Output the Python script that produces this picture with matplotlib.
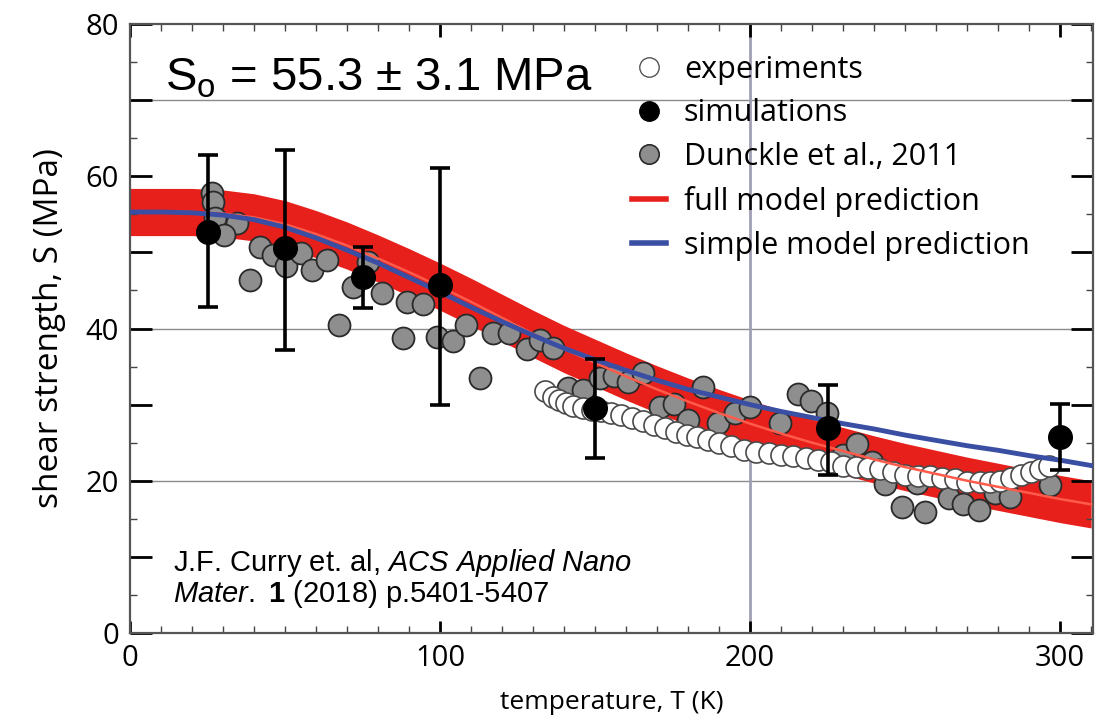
import numpy as np
import matplotlib
matplotlib.use("Agg")
import matplotlib.pyplot as plt
from matplotlib.ticker import MultipleLocator
from matplotlib.lines import Line2D

plt.rcParams['font.family'] = ['Open Sans', 'DejaVu Sans']
plt.rcParams['mathtext.fontset'] = 'custom'
plt.rcParams['mathtext.rm'] = 'Liberation Sans'
plt.rcParams['mathtext.it'] = 'Liberation Sans:italic'
plt.rcParams['mathtext.bf'] = 'Liberation Sans:bold'

# --- data -----------------------------------------------------------------
# Dunckle et al., 2011 (grey circles)
dunckle_T = [26.5, 26.8, 27.5, 34.5, 30.3, 38.7, 41.9, 46.1, 50.3, 55.2,
             58.7, 63.5, 67.4, 71.9, 76.8, 81.3, 88.1, 89.4, 94.5, 99.0,
             104.2, 108.4, 112.9, 117.1, 122.3, 128.0, 132.3, 136.5, 141.3, 146.1,
             151.6, 156.1, 160.6, 165.5, 171.0, 175.5, 180.0, 184.8, 189.7, 195.2,
             200.0, 209.7, 215.6, 219.6, 224.8, 230.0, 234.5, 239.4, 243.5, 249.0,
             253.9, 256.5, 264.0, 268.7, 273.9, 279.0, 283.9, 296.8]
dunckle_S = [57.8, 56.6, 54.5, 53.9, 52.3, 46.4, 50.7, 49.7, 48.2, 49.9,
             47.7, 49.0, 40.5, 45.5, 48.8, 44.7, 38.8, 43.5, 43.2, 38.9,
             38.4, 40.5, 33.5, 39.4, 39.4, 37.3, 38.5, 37.4, 32.2, 31.9,
             33.5, 33.8, 33.0, 34.2, 29.7, 30.1, 28.0, 32.3, 27.6, 28.9,
             29.7, 27.6, 31.4, 30.5, 28.9, 23.4, 24.8, 22.5, 19.6, 16.6,
             19.7, 15.9, 17.7, 17.0, 16.2, 18.4, 17.9, 19.4]

# experiments (open circles)
exp_T = [133.9, 136.5, 138.5, 140.5, 143.0, 146.0, 149.0, 152.0, 155.0, 158.5,
         162.0, 165.5, 169.0, 172.5, 176.0, 179.5, 183.0, 186.5, 190.0, 194.0,
         198.0, 202.0, 206.0, 210.0, 214.0, 218.0, 222.0, 226.0, 230.0, 234.0,
         238.0, 242.0, 246.0, 250.0, 254.0, 258.0, 262.0, 266.0, 270.0, 274.0,
         277.5, 280.5, 284.0, 287.5, 290.5, 293.5, 296.5]
exp_S = [31.8, 31.0, 30.6, 30.2, 29.8, 29.5, 29.3, 29.1, 28.9, 28.6,
         28.3, 27.8, 27.3, 26.9, 26.4, 26.0, 25.7, 25.4, 25.0, 24.5,
         24.1, 23.8, 23.6, 23.4, 23.2, 23.0, 22.7, 22.4, 22.0, 21.8,
         21.7, 21.5, 21.2, 20.8, 20.6, 20.6, 20.4, 20.2, 19.9, 19.8,
         19.8, 20.0, 20.3, 20.7, 21.1, 21.5, 22.0]

# simulations (filled black circles with error bars)
sim_T = [25, 50, 75, 100, 150, 225, 300]
sim_S = [52.7, 50.6, 46.8, 45.7, 29.6, 26.9, 25.8]
sim_hi = [62.8, 63.5, 50.7, 61.1, 36.0, 32.6, 30.1]
sim_lo = [42.8, 37.2, 42.7, 30.0, 23.0, 20.8, 21.4]

# model curves
model_T = [0, 10, 20, 30, 40, 50, 60, 70, 80, 90, 100, 110, 120, 130, 140, 150,
           160, 170, 180, 190, 200, 210, 220, 230, 240, 250, 260, 270, 280, 290,
           300, 310]
full_S = [55.3, 55.3, 55.3, 55.1, 54.6, 53.7, 52.4, 50.9, 49.2, 47.4, 45.5,
          43.5, 41.4, 39.3, 37.3, 35.5, 33.7, 32.0, 30.4, 28.9, 27.5, 26.2,
          25.0, 23.9, 22.8, 21.8, 20.9, 20.0, 19.2, 18.4, 17.6, 16.9]
simple_S = [55.3, 55.3, 55.2, 54.9, 54.3, 53.3, 51.9, 50.3, 48.6, 46.7, 44.8,
            42.8, 40.9, 39.1, 37.4, 35.9, 34.5, 33.2, 32.0, 31.0, 30.0, 29.1,
            28.3, 27.5, 26.8, 26.0, 25.3, 24.6, 24.0, 23.3, 22.7, 22.0]
S0 = 55.3
S0_err = 3.1

x_ticks = [0, 100, 200, 300]
y_ticks = [0, 10, 20, 30, 40, 50, 60, 70, 80]
y_ticklabels = ['0', '', '20', '', '40', '', '60', '', '80']

# --- figure ---------------------------------------------------------------
fig = plt.figure(figsize=(10.99, 7.21), dpi=100)
ax = fig.add_axes([130 / 1099, 1 - 633 / 721, 963 / 1099, 609 / 721])
ax.set_xlim(0, 310.6)
ax.set_ylim(0, 80)

# reference lines
for yv in (20, 40, 70):
    ax.axhline(yv, color='#8a8a8a', lw=1.0, zorder=0.5)
ax.axvline(200, color='#a0a0b4', lw=2.0, zorder=0.5)

# model uncertainty band and curves
full_arr = np.array(full_S)
ax.fill_between(model_T, full_arr - S0_err, full_arr + S0_err,
                color='#e8201c', lw=0, zorder=1)

ax.scatter(dunckle_T, dunckle_S, s=250, facecolor='#8e8e8e',
           edgecolor='#2a2a2a', linewidth=1.3, zorder=2)
ax.scatter(exp_T, exp_S, s=230, facecolor='white',
           edgecolor='#4a4a4a', linewidth=1.2, zorder=3)

ax.plot(model_T, full_S, color='#ff5a4a', lw=1.8, zorder=4)
ax.plot(model_T, simple_S, color='#3a4fa3', lw=3.5, zorder=5)

sim_S_arr = np.array(sim_S)
yerr = [sim_S_arr - np.array(sim_lo), np.array(sim_hi) - sim_S_arr]
ax.errorbar(sim_T, sim_S, yerr=yerr, fmt='o', color='black', ms=17,
            elinewidth=2.6, capsize=7, capthick=2.6, zorder=6)

# axes styling
ax.set_xticks(x_ticks)
ax.xaxis.set_minor_locator(MultipleLocator(10))
ax.set_yticks(y_ticks)
ax.set_yticklabels(y_ticklabels)
ax.yaxis.set_minor_locator(MultipleLocator(5))
ax.tick_params(which='major', direction='in', top=True, right=True,
               labelsize=21, width=2, color='black', pad=8)
ax.tick_params(axis='y', which='major', length=16)
ax.tick_params(axis='x', which='major', length=9)
ax.tick_params(which='minor', direction='in', top=True, right=True,
               length=5, width=1, color='#444444')
for sp in ax.spines.values():
    sp.set_color('#555555')
    sp.set_linewidth(1.6)

ax.set_xlabel('temperature, T (K)', fontsize=19, labelpad=12)
ax.set_ylabel('shear strength, S (MPa)', fontsize=24, labelpad=14)

# annotations
ax.text(0.036, 0.8916, r'S$_\mathrm{o}$ = %.1f ± %.1f MPa' % (S0, S0_err),
        transform=ax.transAxes, fontsize=34, family='Liberation Sans',
        va='baseline', ha='left')
citation = ('J.F. Curry et. al, $\\mathit{ACS\\ Applied\\ Nano}$\n'
            '$\\mathit{Mater.}$ $\\mathbf{1}$ (2018) p.5401-5407')
ax.text(0.045, 0.0509, citation, transform=ax.transAxes, fontsize=21,
        family='Liberation Sans', va='baseline', ha='left',
        linespacing=0.95, multialignment='left')

# legend
handles = [
    Line2D([], [], ls='none', marker='o', ms=14, mfc='white', mec='#555555', mew=1.0),
    Line2D([], [], ls='none', marker='o', ms=14, mfc='black', mec='black'),
    Line2D([], [], ls='none', marker='o', ms=14, mfc='#8e8e8e', mec='#2a2a2a', mew=1.2),
    Line2D([], [], color='#e8201c', lw=4),
    Line2D([], [], color='#3a4fa3', lw=4),
]
labels = ['experiments', 'simulations', 'Dunckle et al., 2011',
          'full model prediction', 'simple model prediction']
ax.legend(handles, labels, loc='upper left', bbox_to_anchor=(0.499, 0.985),
          frameon=False, fontsize=22, handlelength=1.1, handletextpad=0.6,
          labelspacing=0.45, borderpad=0.2)

fig.savefig('out.png', dpi=100)
